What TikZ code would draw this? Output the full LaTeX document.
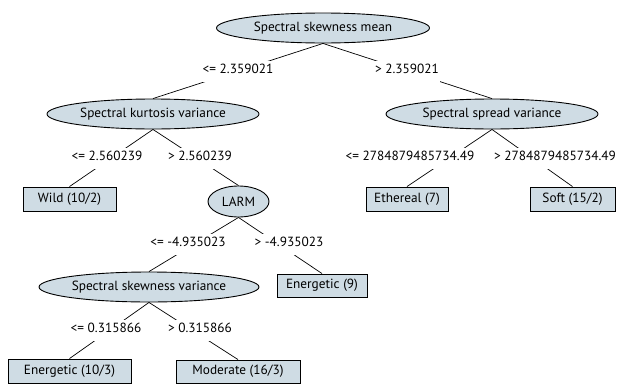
\documentclass[tikz,border=0pt]{standalone}
\usepackage{fontspec}
\setmainfont{PT Sans}
\usetikzlibrary{shapes.geometric}
\begin{document}
\begin{tikzpicture}[x=1pt,y=-1pt,
  every node/.style={font=\fontsize{13.3}{15}\selectfont},
  innode/.style={ellipse, draw=black, line width=0.9pt, fill=nodefill, inner sep=0pt},
  leaf/.style={rectangle, draw=black, line width=0.9pt, fill=nodefill, inner sep=0pt},
  lbl/.style={fill=white, inner xsep=1pt, inner ysep=0pt, minimum height=21pt, text height=0.7em, text depth=0.2em},
  edge/.style={draw=black, line width=0.7pt}]
\definecolor{nodefill}{RGB}{207,220,228}
\useasboundingbox (0,0) rectangle (618,383);
\node[innode, minimum width=213pt, minimum height=30pt] (root) at (323,28) {Spectral skewness mean};
\node[innode, minimum width=212pt, minimum height=30pt] (kurt) at (153,114) {Spectral kurtosis variance};
\node[innode, minimum width=212pt, minimum height=30pt] (spread) at (492,114) {Spectral spread variance};
\node[innode, minimum width=61pt, minimum height=31pt] (larm) at (238.5,201.5) {LARM};
\node[innode, minimum width=220pt, minimum height=30pt] (skewvar) at (149,287) {Spectral skewness variance};
\node[leaf, minimum width=93pt, minimum height=24pt] (wild) at (69.5,199) {Wild (10/2)};
\node[leaf, minimum width=82pt, minimum height=24pt] (eth) at (407,199) {Ethereal (7)};
\node[leaf, minimum width=85pt, minimum height=24pt] (soft) at (572.5,199) {Soft (15/2)};
\node[leaf, minimum width=90pt, minimum height=23pt] (e9) at (322,285.5) {Energetic (9)};
\node[leaf, minimum width=123pt, minimum height=24pt] (e10) at (69.5,371) {Energetic (10/3)};
\node[leaf, minimum width=124pt, minimum height=23pt] (mod) at (238,371.5) {Moderate (16/3)};
\draw[edge] (root.south) -- (kurt.north);
\draw[edge] (root.south) -- (spread.north);
\draw[edge] (kurt.south) -- (wild.north);
\draw[edge] (kurt.south) -- (larm.north);
\draw[edge] (spread.south) -- (eth.north);
\draw[edge] (spread.south) -- (soft.north);
\draw[edge] (larm.south) -- (skewvar.north);
\draw[edge] (larm.south) -- (e9.north);
\draw[edge] (skewvar.south) -- (e10.north);
\draw[edge] (skewvar.south) -- (mod.north);
\node[lbl] (l1) at (238,71) {<= 2.359021};
\node[lbl] (r1) at (407,71) {> 2.359021};
\node[lbl] (l2) at (107,158) {<= 2.560239};
\node[lbl] (r2) at (200,158) {> 2.560239};
\node[lbl] (l3) at (410,158) {<= 2784879485734.49};
\node[lbl] (r3) at (555,158) {> 2784879485734.49};
\node[lbl] (l4) at (188,244) {<= -4.935023};
\node[lbl] (r4) at (289,244) {> -4.935023};
\node[lbl] (l5) at (106,330) {<= 0.315866};
\node[lbl] (r5) at (200,330) {> 0.315866};
\end{tikzpicture}
\end{document}
